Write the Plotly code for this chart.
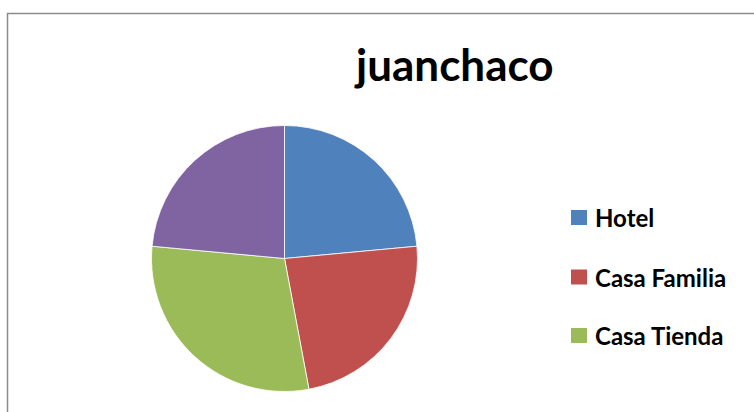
import plotly.graph_objects as go

# Data
labels = ["Hotel", "Casa Familia", "Casa Tienda", "Otros"]
values = [8, 8, 10, 8]
colors = ["#4F81BD", "#C0504D", "#9BBB59", "#8064A2"]
legend_labels = ["Hotel", "Casa Familia", "Casa Tienda"]  # entries that fit in the legend box
title_text = "juanchaco"

W, H = 754, 412
FONT = "Lato"


def px(x):
    return x / W


def py(y):
    return 1 - y / H


# Pie placement (pixel centre and radius)
cx, cy, r = 284.5, 258.5, 133

fig = go.Figure(
    go.Pie(
        labels=labels,
        values=values,
        sort=False,
        direction="clockwise",
        rotation=0,
        marker=dict(colors=colors, line=dict(color="#FFFFFF", width=0.8)),
        textinfo="none",
        hoverinfo="label+value+percent",
        domain=dict(x=[px(cx - r), px(cx + r)], y=[py(cy + r), py(cy - r)]),
        showlegend=False,
    )
)

shapes = []
annotations = []

# Chart-area border
shapes.append(dict(type="rect", xref="paper", yref="paper",
                   x0=px(7.5), x1=1.05, y0=-0.05, y1=py(13.5),
                   line=dict(color="#8C8C8C", width=1.5), fillcolor="rgba(0,0,0,0)"))

# Title
annotations.append(dict(text=f"<b>{title_text}</b>", xref="paper", yref="paper",
                        x=px(454), y=py(64), xanchor="center", yanchor="middle",
                        showarrow=False, font=dict(family=FONT, size=44, color="#000000")))

# Legend drawn as swatches + labels
leg_y = [217.5, 277, 335.5]
for i, name in enumerate(legend_labels):
    yc = leg_y[i]
    shapes.append(dict(type="rect", xref="paper", yref="paper",
                       x0=px(571), x1=px(587), y0=py(yc + 7.5), y1=py(yc - 7.5),
                       line=dict(width=0), fillcolor=colors[i]))
    annotations.append(dict(text=f"<b>{name}</b>", xref="paper", yref="paper",
                            x=px(593), y=py(yc), xanchor="left", yanchor="middle",
                            showarrow=False, font=dict(family=FONT, size=24, color="#000000")))

fig.update_layout(
    width=W, height=H,
    margin=dict(l=0, r=0, t=0, b=0),
    paper_bgcolor="#FFFFFF",
    plot_bgcolor="#FFFFFF",
    shapes=shapes,
    annotations=annotations,
)

fig.write_html("out.html")
